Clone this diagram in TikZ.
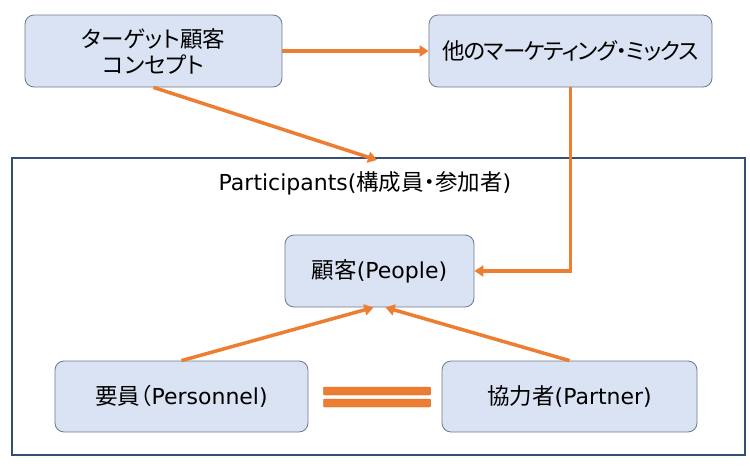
\documentclass[tikz,border=0pt]{standalone}
\usepackage{fontspec}
\setmainfont[RawFeature=+palt]{Noto Sans CJK JP}
\newfontfamily\tight[RawFeature=+palt,LetterSpace=-5]{Noto Sans CJK JP}
\newfontfamily\lat{DejaVu Sans}
\newcommand{\en}[1]{{\lat\fontsize{22}{27}\selectfont #1}}
\usetikzlibrary{arrows.meta,calc}
\definecolor{boxfill}{RGB}{218,227,243}
\definecolor{boxline}{RGB}{110,120,140}
\definecolor{frameline}{RGB}{52,78,118}
\definecolor{arr}{RGB}{237,125,49}

\begin{document}
\begin{tikzpicture}[x=1pt,y=-1pt,font=\fontsize{22.5}{27}\selectfont,
box/.style={draw=boxline, fill=boxfill, rounded corners=9pt, line width=0.8pt,
    align=center, inner sep=0pt},
link/.style={draw=arr, line width=3.5pt, -{Triangle[length=9pt,width=11pt]}},
bar/.style={fill=arr, draw=arr!85!black, line width=0.3pt, rounded corners=1pt}]
\useasboundingbox (0,0) rectangle (750,469);
\draw[frameline, line width=2.4pt] (12,158) rectangle (745,455);
\node (title) at (365,183) {\en{Participants(}構成員・参加者\en{)}};
\node[box, minimum width=257pt, minimum height=72pt] (target) at (153.5,51) {ターゲット顧客\\[-1pt]コンセプト};
\node[box, minimum width=283pt, minimum height=72pt] (mix) at (570.5,51) {\tight 他のマーケティング・ミックス};
\node[box, minimum width=189pt, minimum height=72pt] (people) at (379.5,271) {顧客\en{(People)}};
\node[box, minimum width=253pt, minimum height=71pt] (personnel) at (181.5,396.5) {要員（\en{Personnel)}};
\node[box, minimum width=255pt, minimum height=71pt] (partner) at (569.5,396.5) {協力者\en{(Partner)}};
\coordinate (entry) at (377,160);
\draw[link] (target.east) -- (mix.west);
\draw[link] (target.south) -- (entry);
\draw[link] (mix.south) |- (people.east);
\draw[link] (personnel.north) -- ([xshift=-6pt]people.south);
\draw[link] (partner.north) -- ([xshift=6pt]people.south);
\path[bar] ($(personnel.east)+(15,-9.5)$) rectangle ($(partner.west)+(-11,-1.5)$);
\path[bar] ($(personnel.east)+(15,2.5)$) rectangle ($(partner.west)+(-11,10.5)$);
\end{tikzpicture}
\end{document}
